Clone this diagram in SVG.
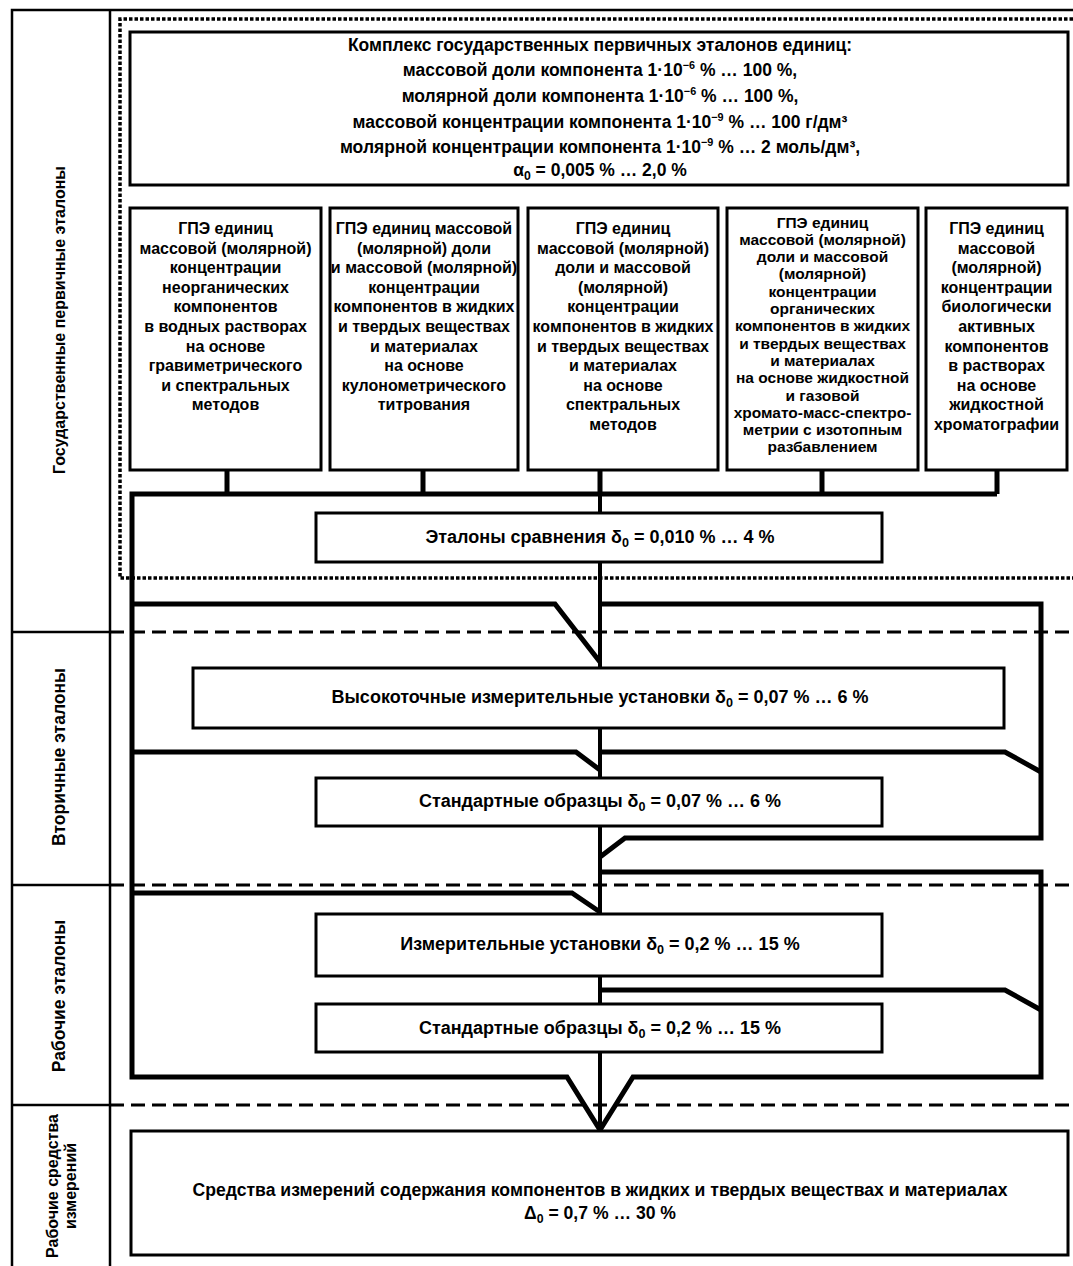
<svg xmlns="http://www.w3.org/2000/svg" width="1073" height="1266" viewBox="0 0 1073 1266">
<style>
text{font-family:"Liberation Sans","Arial",sans-serif;font-weight:bold;font-size:16px;fill:#000;text-anchor:middle}
.lbl{font-size:16px}
.lbl2{font-size:17.5px}
.top{font-size:17.5px}
.mid{font-size:18px}
.bot{font-size:17.6px}
.b4{font-size:15.5px}
.box{fill:#fff;stroke:#000;stroke-width:3}
.frame{fill:none;stroke:#000;stroke-width:2.5}
.dash{fill:none;stroke:#000;stroke-width:3;stroke-dasharray:14 7}
.dot{fill:none;stroke:#000;stroke-width:3.5;stroke-dasharray:3.5 2}
.conn{fill:none;stroke:#000;stroke-width:5;stroke-linejoin:miter}
.spine{fill:none;stroke:#000;stroke-width:4}
.sub{font-size:0.7em}
.sup{font-size:0.62em}
</style>
<rect width="1073" height="1266" fill="#fff"/>
<g id="frame">
<path class="frame" d="M12 1266 V10 H1073 M110 10 V1266 M12 632 H110 M12 885 H110 M12 1105 H110"/>
<path class="dot" d="M1073 19 H120 V578 H1073"/>
<path class="dash" d="M110 632 H1073 M110 885 H1073 M110 1105 H1073"/>
</g>
<g id="labels">
<text class="lbl" transform="translate(59,320) rotate(-90)" dominant-baseline="central">Государственные первичные эталоны</text>
<text class="lbl2" transform="translate(59,757) rotate(-90)" dominant-baseline="central">Вторичные эталоны</text>
<text class="lbl2" transform="translate(59,996) rotate(-90)" dominant-baseline="central">Рабочие эталоны</text>
<text class="lbl" transform="translate(52,1186) rotate(-90)" dominant-baseline="central">Рабочие средства</text>
<text class="lbl" transform="translate(70,1186) rotate(-90)" dominant-baseline="central">измерений</text>
</g>
<g id="connectors">
<path class="spine" d="M600 494 V1130"/>
<path class="conn" d="M227 470 V494 M423 470 V494 M600 470 V494 M822 470 V494 M997 470 V494"/>
<path class="conn" d="M997 494 H132 V1077 H567 L600 1130 L633 1077 H1041 V872 H600"/>
<path class="conn" d="M132 604 H555 L600 662"/>
<path class="conn" d="M600 604 H1041 V838 H625 L600 857"/>
<path class="conn" d="M132 752 H576 L600 770"/>
<path class="conn" d="M600 752 H1005 L1041 772"/>
<path class="conn" d="M132 893 H572 L600 912"/>
<path class="conn" d="M600 990 H1005 L1041 1010"/>
</g>
<g id="complex">
<rect class="box" x="130" y="32" width="938" height="153" stroke-width="3.5"/>
<text class="top" x="600" y="51">Комплекс государственных первичных эталонов единиц:</text>
<text class="top" x="600" y="76">массовой доли компонента 1·10<tspan class="sup" dy="-7">−6</tspan><tspan dy="7"> % … 100 %,</tspan></text>
<text class="top" x="600" y="102">молярной доли компонента 1·10<tspan class="sup" dy="-7">−6</tspan><tspan dy="7"> % … 100 %,</tspan></text>
<text class="top" x="600" y="128">массовой концентрации компонента 1·10<tspan class="sup" dy="-7">−9</tspan><tspan dy="7"> % … 100 г/дм³</tspan></text>
<text class="top" x="600" y="153">молярной концентрации компонента 1·10<tspan class="sup" dy="-7">−9</tspan><tspan dy="7"> % … 2 моль/дм³,</tspan></text>
<text class="top" x="600" y="176">α<tspan class="sub" dy="4">0</tspan><tspan dy="-4"> = 0,005 % … 2,0 %</tspan></text>
</g>
<g id="gpe1">
<rect class="box" x="130" y="208" width="191" height="262"/>
<text x="225.5" y="234">ГПЭ единиц</text>
<text x="225.5" y="253.6">массовой (молярной)</text>
<text x="225.5" y="273.2">концентрации</text>
<text x="225.5" y="292.8">неорганических</text>
<text x="225.5" y="312.4">компонентов</text>
<text x="225.5" y="332">в водных растворах</text>
<text x="225.5" y="351.6">на основе</text>
<text x="225.5" y="371.2">гравиметрического</text>
<text x="225.5" y="390.8">и спектральных</text>
<text x="225.5" y="410.4">методов</text>
</g>
<g id="gpe2">
<rect class="box" x="330" y="208" width="188" height="262"/>
<text x="424" y="234">ГПЭ единиц массовой</text>
<text x="424" y="253.6">(молярной) доли</text>
<text x="424" y="273.2">и массовой (молярной)</text>
<text x="424" y="292.8">концентрации</text>
<text x="424" y="312.4">компонентов в жидких</text>
<text x="424" y="332">и твердых веществах</text>
<text x="424" y="351.6">и материалах</text>
<text x="424" y="371.2">на основе</text>
<text x="424" y="390.8">кулонометрического</text>
<text x="424" y="410.4">титрования</text>
</g>
<g id="gpe3">
<rect class="box" x="528" y="208" width="190" height="262"/>
<text x="623" y="234">ГПЭ единиц</text>
<text x="623" y="253.6">массовой (молярной)</text>
<text x="623" y="273.2">доли и массовой</text>
<text x="623" y="292.8">(молярной)</text>
<text x="623" y="312.4">концентрации</text>
<text x="623" y="332">компонентов в жидких</text>
<text x="623" y="351.6">и твердых веществах</text>
<text x="623" y="371.2">и материалах</text>
<text x="623" y="390.8">на основе</text>
<text x="623" y="410.4">спектральных</text>
<text x="623" y="430">методов</text>
</g>
<g id="gpe4">
<rect class="box" x="727" y="208" width="191" height="262"/>
<text class="b4" x="822.5" y="227.5">ГПЭ единиц</text>
<text class="b4" x="822.5" y="244.8">массовой (молярной)</text>
<text class="b4" x="822.5" y="262.1">доли и массовой</text>
<text class="b4" x="822.5" y="279.4">(молярной)</text>
<text class="b4" x="822.5" y="296.7">концентрации</text>
<text class="b4" x="822.5" y="314">органических</text>
<text class="b4" x="822.5" y="331.3">компонентов в жидких</text>
<text class="b4" x="822.5" y="348.6">и твердых веществах</text>
<text class="b4" x="822.5" y="365.9">и материалах</text>
<text class="b4" x="822.5" y="383.2">на основе жидкостной</text>
<text class="b4" x="822.5" y="400.5">и газовой</text>
<text class="b4" x="822.5" y="417.8">хромато-масс-спектро-</text>
<text class="b4" x="822.5" y="435.1">метрии с изотопным</text>
<text class="b4" x="822.5" y="452.4">разбавлением</text>
</g>
<g id="gpe5">
<rect class="box" x="926" y="208" width="141" height="262"/>
<text x="996.5" y="234">ГПЭ единиц</text>
<text x="996.5" y="253.6">массовой</text>
<text x="996.5" y="273.2">(молярной)</text>
<text x="996.5" y="292.8">концентрации</text>
<text x="996.5" y="312.4">биологически</text>
<text x="996.5" y="332">активных</text>
<text x="996.5" y="351.6">компонентов</text>
<text x="996.5" y="371.2">в растворах</text>
<text x="996.5" y="390.8">на основе</text>
<text x="996.5" y="410.4">жидкостной</text>
<text x="996.5" y="430">хроматографии</text>
</g>
<g id="comparison">
<rect class="box" x="316" y="513" width="566" height="49"/>
<text class="mid" x="600" y="543">Эталоны сравнения δ<tspan class="sub" dy="4">0</tspan><tspan dy="-4"> = 0,010 % … 4 %</tspan></text>
</g>
<g id="hp-installations">
<rect class="box" x="193" y="668" width="811" height="60"/>
<text class="mid" x="600" y="703">Высокоточные измерительные установки δ<tspan class="sub" dy="4">0</tspan><tspan dy="-4"> = 0,07 % … 6 %</tspan></text>
</g>
<g id="crm-secondary">
<rect class="box" x="316" y="778" width="566" height="48"/>
<text class="mid" x="600" y="807">Стандартные образцы δ<tspan class="sub" dy="4">0</tspan><tspan dy="-4"> = 0,07 % … 6 %</tspan></text>
</g>
<g id="installations">
<rect class="box" x="316" y="914" width="566" height="62"/>
<text class="mid" x="600" y="950">Измерительные установки δ<tspan class="sub" dy="4">0</tspan><tspan dy="-4"> = 0,2 % … 15 %</tspan></text>
</g>
<g id="crm-working">
<rect class="box" x="316" y="1004" width="566" height="48"/>
<text class="mid" x="600" y="1034">Стандартные образцы δ<tspan class="sub" dy="4">0</tspan><tspan dy="-4"> = 0,2 % … 15 %</tspan></text>
</g>
<g id="instruments">
<rect class="box" x="131" y="1131" width="937" height="124"/>
<text class="bot" x="600" y="1196">Средства измерений содержания компонентов в жидких и твердых веществах и материалах</text>
<text class="bot" x="600" y="1219">Δ<tspan class="sub" dy="4">0</tspan><tspan dy="-4"> = 0,7 % … 30 %</tspan></text>
</g>
</svg>
